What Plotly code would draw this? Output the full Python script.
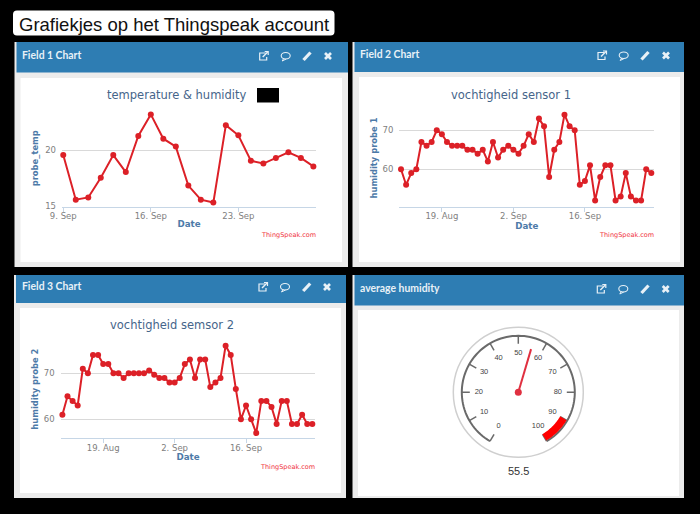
import numpy as np
import plotly.graph_objects as go

W, H = 700, 514

# ---------- data ----------
page_title = "Grafiekjes op het Thingspeak account"

dates_1 = [f"2016-09-{d:02d}" for d in range(9, 30)]
temp_values = [19.55, 15.6, 15.8, 17.55, 19.55, 18.05, 21.25, 23.15, 21.0, 20.3, 16.85,
               15.6, 15.35, 22.2, 21.3, 19.05, 18.8, 19.3, 19.8, 19.3, 18.55]
dates_2 = [f"2016-08-{d:02d}" for d in range(11, 32)] + [f"2016-09-{d:02d}" for d in range(1, 30)]
hum1_values = [60, 56, 59, 60, 67, 66, 67, 70, 69, 67, 66, 66, 66, 65, 65, 64, 65, 62, 67, 63,
               65, 66, 65, 64, 66, 69, 67, 73, 71, 58, 65, 67, 74, 71, 70, 56, 57, 61, 52, 58,
               61, 61, 52, 53, 59, 53, 52, 52, 60, 59]
hum2_values = [61, 65, 64, 63, 71, 70, 74, 74, 72, 72, 70, 70, 69, 70, 70, 70, 70, 70.6, 69.7, 69,
               69, 68, 68, 69, 72, 73, 69, 73, 73, 67, 68, 69, 76, 74, 66.6, 60, 63, 60, 57, 64,
               64, 62.7, 59, 64, 64, 59, 59, 61, 59, 59]
gauge_value = 55.5
gauge_ticks = [0, 10, 20, 30, 40, 50, 60, 70, 80, 90, 100]
gauge_red_band = [90, 100]

ticks_1 = ["2016-09-09", "2016-09-16", "2016-09-23"]
ticktext_1 = ["9. Sep", "16. Sep", "23. Sep"]
ticks_2 = ["2016-08-19", "2016-09-02", "2016-09-16"]
ticktext_2 = ["19. Aug", "2. Sep", "16. Sep"]

# ---------- style ----------
BLACK = "#000000"
PANEL = "#ececec"
HEADER = "#2e7db3"
HEAD_TXT = "#e8f1f7"
LINE = "#dc2027"
GRID = "#d9d9d9"
AXIS = "#c6d6e6"
TICK_TXT = "#808080"
AX_TITLE = "#4d7aa8"
TITLE = "#46658a"
FONT = "DejaVu Sans"


def fx(x):
    return x / W


def fy(y):
    return 1 - y / H


shapes, annotations = [], []


def rect(x0, y0, x1, y1, color):
    shapes.append(dict(type="rect", xref="paper", yref="paper", x0=fx(x0), x1=fx(x1),
                       y0=fy(y1), y1=fy(y0), fillcolor=color, line_width=0, layer="below"))


def pth(points, color, width, fill=None):
    d = "M" + "L".join(f"{fx(a):.5f},{fy(b):.5f}" for a, b in points)
    shapes.append(dict(type="path", xref="paper", yref="paper", path=d,
                       line=dict(color=color, width=width),
                       fillcolor=fill or "rgba(0,0,0,0)", layer="below"))


def text(x, y, s, size, color, family=FONT, anchor="center", bold=False):
    annotations.append(dict(xref="paper", yref="paper", x=fx(x), y=fy(y), text=f"<b>{s}</b>" if bold else s,
                            showarrow=False, xanchor=anchor, yanchor="middle",
                            font=dict(size=size, color=color, family=family)))


def icons(xs, y):
    a, b, c, d = xs
    pth([(a + 2, y - 3), (a - 4, y - 3), (a - 4, y + 4), (a + 3, y + 4), (a + 3, y + 1)], HEAD_TXT, 1.2)
    pth([(a - 1, y + 1), (a + 4, y - 4)], HEAD_TXT, 1.4)
    pth([(a + 1, y - 4.5), (a + 4.5, y - 4.5), (a + 4.5, y - 1)], HEAD_TXT, 1.2)
    shapes.append(dict(type="circle", xref="paper", yref="paper", x0=fx(b - 4.5), x1=fx(b + 4.5),
                       y0=fy(y + 3), y1=fy(y - 3.5), line=dict(color=HEAD_TXT, width=1.1), layer="below"))
    pth([(b - 2, y + 2.5), (b - 3.5, y + 5), (b + 0.5, y + 3)], HEAD_TXT, 1)
    pth([(c - 3.5, y + 4), (c + 3.5, y - 3.5)], HEAD_TXT, 3.2)
    pth([(d - 3, y - 3), (d + 3, y + 3)], HEAD_TXT, 2.6)
    pth([(d - 3, y + 3), (d + 3, y - 3)], HEAD_TXT, 2.6)


def panel(gx0, gy0, gx1, gy1, hy1, wx0, wy0, wx1, wy1, label, head_y, icon_xs):
    rect(gx0, gy0, gx1, gy1, PANEL)
    rect(gx0 + 2, gy0, gx1, hy1, HEADER)
    rect(wx0, wy0, wx1, wy1, "#ffffff")
    text(gx0 + 5.5, head_y, label, 10.4, HEAD_TXT, family="Lato", anchor="left", bold=True)
    icons(icon_xs, head_y + 1)


# ---------- page furniture ----------
tx0, ty0, tx1, ty1, rd = 13, 10.5, 334.5, 35.5, 4
d = (f"M{fx(tx0 + rd)},{fy(ty0)} L{fx(tx1 - rd)},{fy(ty0)} Q{fx(tx1)},{fy(ty0)} {fx(tx1)},{fy(ty0 + rd)} "
     f"L{fx(tx1)},{fy(ty1 - rd)} Q{fx(tx1)},{fy(ty1)} {fx(tx1 - rd)},{fy(ty1)} "
     f"L{fx(tx0 + rd)},{fy(ty1)} Q{fx(tx0)},{fy(ty1)} {fx(tx0)},{fy(ty1 - rd)} "
     f"L{fx(tx0)},{fy(ty0 + rd)} Q{fx(tx0)},{fy(ty0)} {fx(tx0 + rd)},{fy(ty0)} Z")
shapes.append(dict(type="path", xref="paper", yref="paper", path=d, fillcolor="#ffffff", line_width=0, layer="below"))
text(173.5, 24, page_title, 18.5, "#111111", family="Liberation Sans")

panel(14.5, 42, 348, 267, 72.5, 20.5, 78, 342, 262, "Field 1 Chart", 55, (263.7, 285.7, 307, 328))
panel(352.5, 42, 684, 267, 72, 359, 77, 680, 262, "Field 2 Chart", 54.5, (602, 623.7, 645, 666))
panel(14, 275, 346, 498, 303, 20, 308, 341, 493, "Field 3 Chart", 286, (263, 285, 306.7, 327))
panel(352.5, 275, 684, 498, 305.5, 358, 310, 679, 496, "average humidity", 288, (601.3, 623.3, 645, 665.7))

fig = go.Figure()


# ---------- line charts ----------
def chart(idx, x, y, name, px0, px1, ptop, pbot, xr, yr, yticks, xticks, xticktext,
          ytitle, title, title_xy, credit_xy, ystandoff):
    suffix = "" if idx == 1 else str(idx)
    fig.add_trace(go.Scatter(x=x, y=y, name=name, mode="lines+markers", xaxis=f"x{suffix}", yaxis=f"y{suffix}",
                             line=dict(color=LINE, width=2), marker=dict(color=LINE, size=6),
                             cliponaxis=False, showlegend=False))
    fig.layout[f"xaxis{suffix}"] = dict(
        domain=[fx(px0), fx(px1)], anchor=f"y{suffix}", range=xr, type="date",
        tickmode="array", tickvals=xticks, ticktext=xticktext, ticks="outside", ticklen=4, tickcolor=AXIS,
        ticklabelstandoff=-3,
        tickfont=dict(size=8.5, color=TICK_TXT, family=FONT), showgrid=False, showline=True,
        linecolor=AXIS, linewidth=1, zeroline=False, automargin=False,
        title=dict(text="<b>Date</b>", standoff=1, font=dict(size=8.7, color=AX_TITLE, family=FONT)))
    fig.layout[f"yaxis{suffix}"] = dict(
        domain=[fy(pbot), fy(ptop)], anchor=f"x{suffix}", range=yr, tickmode="array", tickvals=yticks,
        ticklabelstandoff=5,
        tickfont=dict(size=8.5, color=TICK_TXT, family=FONT), showgrid=True, gridcolor=GRID, gridwidth=1,
        zeroline=False, showline=False, ticks="", automargin=False,
        title=dict(text=f"<b>{ytitle}</b>", standoff=ystandoff, font=dict(size=8.4, color=AX_TITLE, family=FONT)))
    text(title_xy[0], title_xy[1], title, 11.5, TITLE)
    text(credit_xy[0], credit_xy[1], "ThingSpeak.com", 6.5, "#f0323c", anchor="right")


chart(1, dates_1, temp_values, "probe_temp", 62, 316, 110, 206.5,
      ["2016-09-08 21:36", "2016-09-29 05:00"], [15, 23.54], [15, 20], ticks_1, ticktext_1,
      "probe_temp", "temperature &amp; humidity", (177, 95), (318, 235), 5)
chart(2, dates_2, hum1_values, "humidity probe 1", 399.3, 654.3, 109, 207,
      ["2016-08-10 16:00", "2016-09-29 14:00"], [50.3, 75.46], [60, 70], ticks_2, ticktext_2,
      "humidity probe 1", "vochtigheid sensor 1", (510.7, 94.7), (656, 235), 3)
chart(3, dates_2, hum2_values, "humidity probe 2", 60.7, 315.3, 340, 438.3,
      ["2016-08-10 16:00", "2016-09-29 14:00"], [55.87, 77.24], [60, 70], ticks_2, ticktext_2,
      "humidity probe 2", "vochtigheid semsor 2", (171.7, 325.3), (317, 466.7), 3)

# black box that hides part of the first chart's title
rect(257, 88, 279, 102.5, BLACK)

# ---------- gauge ----------
CX, CY, R_OUT = 518.3, 392.3, 65
R_DIAL, R_TICK, R_LABEL, R_BAND = 56.5, 48.5, 39.5, 52
DEG = 3  # degrees per gauge unit


def polar_line(r, theta, color, width):
    fig.add_trace(go.Scatterpolar(r=r, theta=theta, mode="lines", line=dict(color=color, width=width),
                                  subplot="polar", showlegend=False, hoverinfo="skip"))


arc = np.arange(0, 101, 1) * DEG
polar_line([R_DIAL] * len(arc), arc, "#6a6a6a", 2)

tick_r, tick_t = [], []
for t in gauge_ticks:
    tick_r += [R_TICK, R_DIAL, None]
    tick_t += [t * DEG, t * DEG, None]
polar_line(tick_r, tick_t, "#6a6a6a", 1.5)

band = np.arange(gauge_red_band[0], gauge_red_band[1] + 1, 1) * DEG
polar_line([R_BAND] * len(band), band, "#ff0000", 7.5)

polar_line([0, 45], [gauge_value * DEG, gauge_value * DEG], "#e03040", 2)
fig.add_trace(go.Scatterpolar(r=[0], theta=[gauge_value * DEG], mode="markers",
                              marker=dict(color="#e03040", size=7), subplot="polar", showlegend=False))
fig.add_trace(go.Scatterpolar(r=[R_LABEL] * len(gauge_ticks), theta=[t * DEG for t in gauge_ticks],
                              text=[str(t) for t in gauge_ticks], mode="text",
                              textfont=dict(size=7.5, color="#444444", family="Liberation Sans"),
                              subplot="polar", showlegend=False))
text(CX, 470.5, f"{gauge_value}", 11, "#333333", family="Liberation Sans")

fig.update_layout(
    width=W, height=H, autosize=False, margin=dict(l=0, r=0, t=0, b=0, pad=0, autoexpand=False),
    paper_bgcolor=BLACK, plot_bgcolor="rgba(0,0,0,0)", showlegend=False,
    shapes=shapes, annotations=annotations,
    polar=dict(
        domain=dict(x=[fx(CX - R_OUT), fx(CX + R_OUT)], y=[fy(CY + R_OUT), fy(CY - R_OUT)]),
        bgcolor="rgba(0,0,0,0)",
        radialaxis=dict(range=[0, R_OUT], visible=False, showgrid=False),
        angularaxis=dict(rotation=240, direction="clockwise", showgrid=False, ticks="",
                         showticklabels=False, showline=True, linecolor="#cfcfcf", linewidth=1.5),
    ),
)

fig.write_html("out.html", config=dict(displayModeBar=False),
               post_script="document.body.style.margin='0';document.body.style.overflow='hidden';document.body.style.background='#000';")
